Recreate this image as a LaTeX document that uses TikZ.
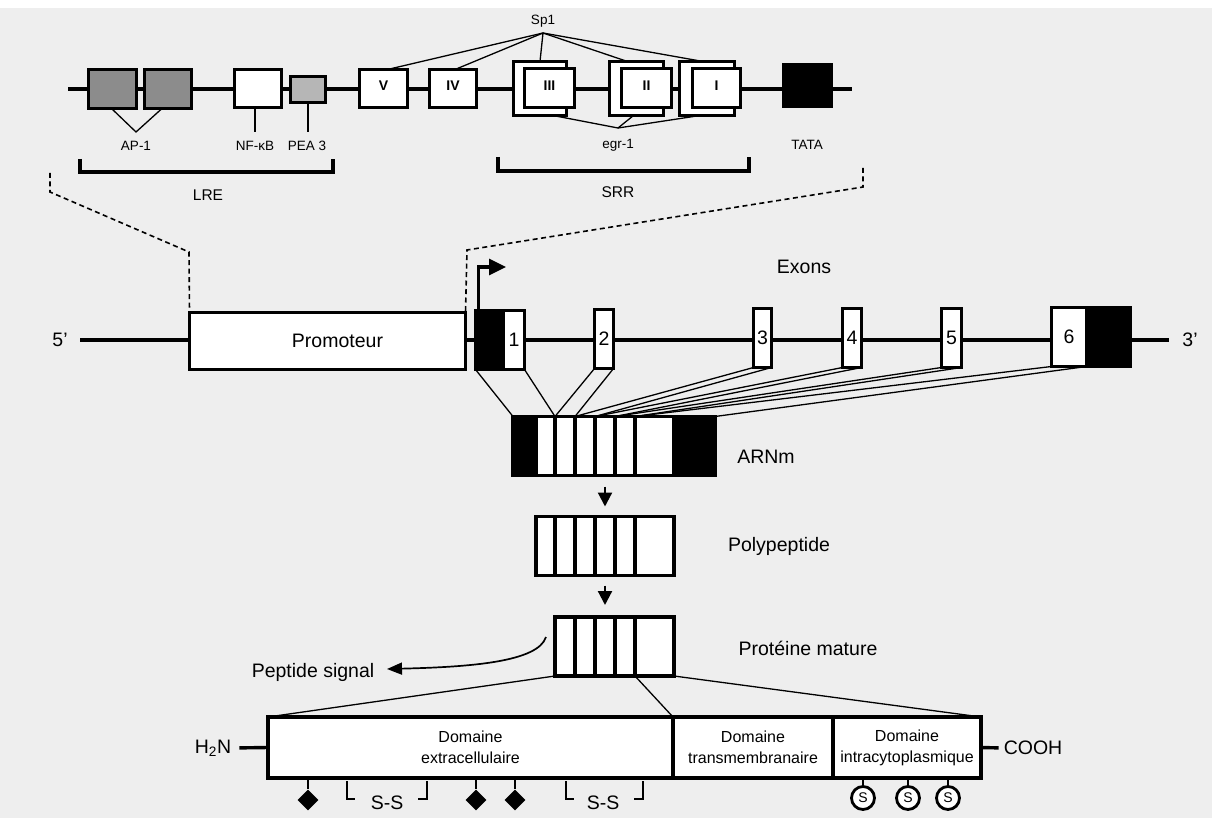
\documentclass[tikz,border=0pt]{standalone}
\usepackage{fontspec}
\setmainfont{Liberation Sans}
\usetikzlibrary{arrows.meta,shapes.geometric,calc}
\definecolor{paper}{RGB}{238,238,238}
\definecolor{apgray}{RGB}{140,140,140}
\definecolor{peagray}{RGB}{182,182,182}
\begin{document}
\begin{tikzpicture}[x=1pt,y=-1pt,
  box/.style={draw, line width=3.4pt, fill=white, inner sep=0pt, outer sep=0pt},
  cell/.style={box, minimum height=59pt},
  thickline/.style={line width=3.4pt},
  thinline/.style={line width=1.3pt},
  dashline/.style={line width=1.6pt, dash pattern=on 5pt off 3.5pt},
  bracketline/.style={line width=3.2pt},
  ssline/.style={line width=1.5pt},
  big/.style={font=\fontsize{19.5}{22}\selectfont, inner sep=0pt},
  mid/.style={font=\fontsize{15.5}{18}\selectfont, inner sep=0pt},
  small/.style={font=\fontsize{13.5}{16}\selectfont, inner sep=0pt},
  roman/.style={font=\fontsize{14}{16}\selectfont\bfseries},
  dom/.style={font=\fontsize{16}{21}\selectfont, align=center},
  bigarrow/.style={line width=2.2pt, -{Triangle[length=14pt,width=14pt]}},
  sdot/.style={circle, draw, line width=2.8pt, fill=white, minimum size=23pt, inner sep=0pt, font=\fontsize{14}{16}\selectfont},
  glyco/.style={diamond, fill=black, minimum width=21pt, minimum height=21pt, inner sep=0pt}
]
\useasboundingbox (0,0) rectangle (1212,818);
\fill[white] (0,0) rectangle (1212,818);
\fill[paper] (0,8) rectangle (1212,818);

% ---------------- promoter detail (top) ----------------
\coordinate (tl) at (68,89);
\coordinate (tr) at (852,89);
\draw[thickline] (tl) -- (tr);
\node[box, fill=apgray, minimum width=48pt, minimum height=39pt] (ap1a) at (112.5,89) {};
\node[box, fill=apgray, minimum width=47pt, minimum height=39pt] (ap1b) at (168,89) {};
\node[box, minimum width=47pt, minimum height=38pt] (nfkb) at (258,88.5) {};
\node[box, fill=peagray, minimum width=35pt, minimum height=26pt] (pea3) at (308,89.5) {};
\node[box, roman, minimum width=48pt, minimum height=38pt] (v) at (383.5,88.5) {\raisebox{5pt}{V}};
\node[box, roman, minimum width=47pt, minimum height=38pt] (iv) at (453,88.5) {\raisebox{5pt}{IV}};
\node[box, minimum width=53pt, minimum height=54pt] (IIIb) at (540,88.5) {};
\node[box, roman, minimum width=50pt, minimum height=39pt] (III) at (549.5,88) {\raisebox{5pt}{III}};
\node[box, minimum width=54pt, minimum height=54pt] (IIb) at (636.5,88.5) {};
\node[box, roman, minimum width=50pt, minimum height=39pt] (II) at (646.5,88) {\raisebox{5pt}{II}};
\node[box, minimum width=55pt, minimum height=54pt] (Ib) at (707,88.5) {};
\node[box, roman, minimum width=48pt, minimum height=39pt] (I) at (716.5,88) {\raisebox{5pt}{I}};
\node[box, fill=black, minimum width=48pt, minimum height=42pt] (tata) at (807.5,85.5) {};

% Sp1
\node[small] (sp1) at (543,21) {Sp1};
\coordinate (sp1a) at (543,33);
\draw[thinline] (sp1a) -- ([xshift=4pt]v.north);
\draw[thinline] (sp1a) -- ([xshift=2pt]iv.north);
\draw[thinline] (sp1a) -- (IIIb.north);
\draw[thinline] (sp1a) -- ([xshift=-9pt]IIb.north);
\draw[thinline] (sp1a) -- ([xshift=-4pt]Ib.north);

% egr-1
\coordinate (egra) at (618,128);
\node[small] (egr) at (618,145) {egr-1};
\draw[thinline] (egra) -- ([xshift=13pt]IIIb.south);
\draw[thinline] (egra) -- ([xshift=-3pt]IIb.south);
\draw[thinline] (egra) -- ([xshift=-7pt]Ib.south);

% AP-1, NF-kB, PEA3
\coordinate (ap1c) at (136,132);
\node[small] (ap1) at (136,146) {AP-1};
\draw[thinline] ([xshift=-1pt]ap1a.south) -- (ap1c) -- ([xshift=-6pt]ap1b.south);
\node[small] (nfkbl) at (255,146) {NF-κB};
\draw[thinline] ([xshift=-3pt]nfkb.south) -- ([xshift=-3pt]nfkb.south |- ap1c);
\node[small] (peal) at (307,146) {PEA 3};
\draw[thinline] (pea3.south) -- (pea3.south |- ap1c);
\node[small] (tatal) at (807,145) {TATA};

% brackets
\draw[bracketline] (80,159) -- (80,172) -- (333,172) -- (333,159);
\node[mid] (lre) at (208,195) {LRE};
\draw[bracketline] (498,157) -- (498,171) -- (749,171) -- (749,157);
\node[mid] (srr) at (618,192) {SRR};

% ---------------- gene ----------------
\coordinate (g5) at (80,340);
\coordinate (g3) at (1169,340);
\draw[thickline] (g5) -- (g3);
\node[big] (five) at (60,340) {5'};
\node[big] (three) at (1190,340) {3'};
\node[box, big, minimum width=276pt, minimum height=57pt] (prom) at (327.5,341) {\hspace*{20pt}Promoteur};
\node[box, fill=black, minimum width=25pt, minimum height=59pt] (ex1u) at (488,340) {};
\node[box, big, minimum width=21pt, minimum height=59pt] (ex1) at (514,340) {\raisebox{-3pt}{1}};
\node[box, big, minimum width=19pt, minimum height=59pt] (ex2) at (604,339) {2};
\node[box, big, minimum width=18pt, minimum height=59pt] (ex3) at (762.5,338) {3};
\node[box, big, minimum width=19pt, minimum height=59pt] (ex4) at (852,338) {4};
\node[box, big, minimum width=20pt, minimum height=59pt] (ex5) at (951.5,338) {5};
\node[box, big, minimum width=35pt, minimum height=59pt] (ex6) at (1069,337) {6};
\node[box, fill=black, minimum width=41pt, minimum height=59pt] (ex6u) at (1110,337) {};
\node[big] (exons) at (804,267) {Exons};

% dashed zoom lines
\draw[dashline] (50,173) -- (50,192) -- (189,252) -- (prom.north west);
\draw[dashline] (863,168) -- (863,187) -- (467,250) -- (prom.north east);

% transcription start
\coordinate (tss) at (506,267);
\draw[line width=3.2pt, -{Triangle[length=17pt,width=16pt]}] ([xshift=3pt]ex1u.north west) |- (tss);

% ---------------- mRNA ----------------
\node[cell, fill=black, minimum width=23pt] (m0) at (524.5,446) {};
\node[cell, minimum width=19pt] (m1) at (545.5,446) {};
\node[cell, minimum width=20pt] (m2) at (565,446) {};
\node[cell, minimum width=20pt] (m3) at (585,446) {};
\node[cell, minimum width=20pt] (m4) at (605,446) {};
\node[cell, minimum width=20pt] (m5) at (625,446) {};
\node[cell, minimum width=39pt] (m6) at (654.5,446) {};
\node[cell, fill=black, minimum width=41pt] (m7) at (694.5,446) {};
\node[big] (arnm) at (766,457) {ARNm};

\draw[thinline] (ex1u.south west) -- (m0.north west);
\draw[thinline] (ex1.south east) -- (m1.north east);
\draw[thinline] (ex2.south west) -- (m2.north west);
\draw[thinline] (ex2.south east) -- (m2.north east);
\draw[thinline] (ex3.south west) -- (m3.north west);
\draw[thinline] (ex3.south east) -- (m3.north east);
\draw[thinline] (ex4.south west) -- (m4.north west);
\draw[thinline] (ex4.south east) -- (m4.north east);
\draw[thinline] (ex5.south west) -- (m5.north west);
\draw[thinline] (ex5.south east) -- (m5.north east);
\draw[thinline] (ex6.south west) -- (m6.north west);
\draw[thinline] (ex6.south east) -- (m7.north east);

% ---------------- polypeptide ----------------
\node[cell, minimum width=19pt] (p1) at (545.5,546) {};
\node[cell, minimum width=20pt] (p2) at (565,546) {};
\node[cell, minimum width=20pt] (p3) at (585,546) {};
\node[cell, minimum width=20pt] (p4) at (605,546) {};
\node[cell, minimum width=20pt] (p5) at (625,546) {};
\node[cell, minimum width=39pt] (p6) at (654.5,546) {};
\node[big] (poly) at (779,546) {Polypeptide};
\draw[bigarrow, shorten <=11pt, shorten >=10pt] (m4.south) -- (p4.north);

% ---------------- mature protein ----------------
\node[cell, minimum width=20pt] (q2) at (565,646.5) {};
\node[cell, minimum width=20pt] (q3) at (585,646.5) {};
\node[cell, minimum width=20pt] (q4) at (605,646.5) {};
\node[cell, minimum width=20pt] (q5) at (625,646.5) {};
\node[cell, minimum width=39pt] (q6) at (654.5,646.5) {};
\node[big] (mature) at (808,648) {Protéine mature};
\draw[bigarrow, shorten <=10pt, shorten >=12pt] (p4.south) -- (q4.north);

% signal peptide
\coordinate (ps0) at (546,637);
\coordinate (ps1) at (387,669);
\node[big] (pslab) at (313,672) {Peptide signal};
\draw[line width=1.7pt, -{Triangle[length=15pt,width=12pt]}] (ps0) .. controls (538,662) and (470,667) .. (ps1);

% ---------------- domains ----------------
\node[box, dom, minimum width=405pt, minimum height=61pt] (dext) at (470.5,747.5) {Domaine\\extracellulaire};
\node[box, dom, minimum width=160pt, minimum height=61pt] (dtm) at (753,747.5) {Domaine\\transmembranaire};
\node[box, dom, minimum width=148pt, minimum height=61pt] (dint) at (907,747.5) {Domaine\\intracytoplasmique};

\draw[thinline] (q2.south west) -- (dext.north west);
\draw[thinline] (q6.south west) -- (dext.north east);
\draw[thinline] (q6.south east) -- (dint.north east);

\node[big] (h2n) at (213,748) {H\textsubscript{2}N};
\draw[thickline, shorten <=8pt] (h2n.east) -- (dext.west);
\node[big] (cooh) at (1033,748) {COOH};
\draw[thickline, shorten >=5pt] (dint.east) -- (cooh.west);

% glycosylation sites
\node[glyco] (dm1) at (308,800) {};
\node[glyco] (dm2) at (476,800) {};
\node[glyco] (dm3) at (515,800) {};
\draw[line width=2.2pt] (dm1.north |- dext.south) -- (dm1.north);
\draw[line width=2.2pt] (dm2.north |- dext.south) -- (dm2.north);
\draw[line width=2.2pt] (dm3.north |- dext.south) -- (dm3.north);

% disulfide bridges
\node[big] (ss1) at (387,803) {S-S};
\draw[ssline] (347,781) -- (347,799) -- (355,799);
\draw[ssline] (418,799) -- (427,799) -- (427,781);
\node[big] (ss2) at (603,803) {S-S};
\draw[ssline] (566,781) -- (566,799) -- (574,799);
\draw[ssline] (634,799) -- (643,799) -- (643,781);

% intracellular S sites
\node[sdot] (s1) at (863,798) {S};
\node[sdot] (s2) at (908,798) {S};
\node[sdot] (s3) at (948,798) {S};
\draw[line width=2.6pt] (s1.north |- dint.south) -- (s1.north);
\draw[line width=2.6pt] (s2.north |- dint.south) -- (s2.north);
\draw[line width=2.6pt] (s3.north |- dint.south) -- (s3.north);
\end{tikzpicture}
\end{document}
